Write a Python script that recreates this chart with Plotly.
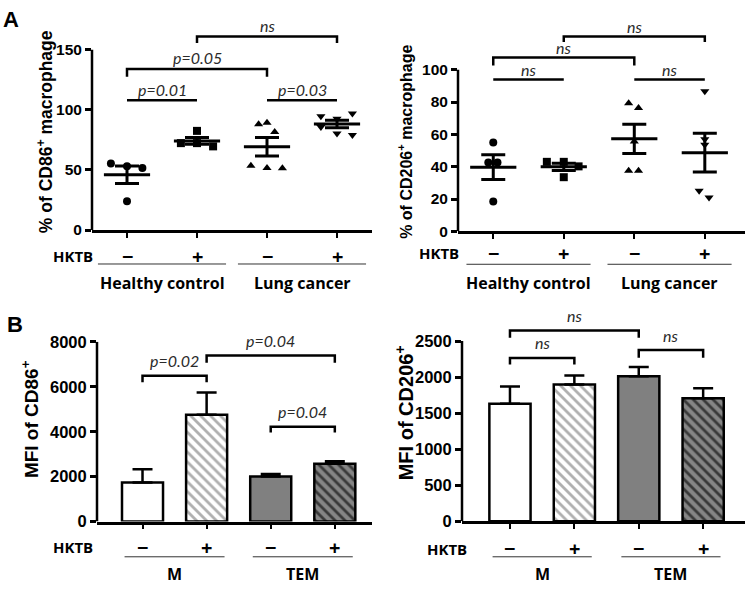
import numpy as np
import plotly.graph_objects as go

W, H = 749, 591

# ---------------- data ----------------
hktb_labels = ["−", "+", "−", "+"]
categories = [0, 1, 2, 3]
groups_A = ["Healthy control", "Lung cancer"]
groups_B = ["M", "TEM"]

# Panel A left: % of CD86+ macrophage (individual donors)
cd86_hc_minus = [55.4, 53.0, 51.6, 24.0]
cd86_hc_plus = [82.5, 72.3, 72.3, 69.6]
cd86_lc_minus = [88.0, 89.3, 81.5, 53.5, 51.6, 51.4]
cd86_lc_plus = [94.6, 85.7, 92.5, 80.4, 97.0, 79.0]
cd86_jitter = [[-0.23, 0.0, 0.22, 0.0], [0.0, -0.23, 0.0, 0.23],
               [-0.12, 0.0, 0.11, -0.23, 0.0, 0.22], [-0.23, -0.23, 0.0, 0.0, 0.22, 0.22]]

# Panel A right: % of CD206+ macrophage
cd206_hc_minus = [55.0, 42.6, 42.6, 18.5]
cd206_hc_plus = [43.0, 43.0, 40.2, 33.5]
cd206_lc_minus = [79.3, 76.3, 55.6, 37.5, 37.5]
cd206_lc_plus = [86.7, 57.0, 53.6, 25.1, 20.9]
cd206_jitter = [[0.0, -0.07, 0.06, 0.0], [-0.24, 0.0, 0.21, 0.0],
                [-0.08, 0.06, 0.0, -0.08, 0.06], [0.0, 0.0, 0.0, -0.08, 0.06]]

# Panel B: MFI (mean, SEM)
mfi_cd86_mean = [1745, 4750, 2005, 2575]
mfi_cd86_sem = [585, 990, 110, 110]
mfi_cd206_mean = [1630, 1898, 2010, 1705]
mfi_cd206_sem = [240, 125, 130, 140]

yticks_A1 = [0, 50, 100, 150]
yticks_A2 = [0, 20, 40, 60, 80, 100]
yticks_B1 = [0, 2000, 4000, 6000, 8000]
yticks_B2 = [0, 500, 1000, 1500, 2000, 2500]

# significance: (x0, x1, y, drop, label)  drop=0 -> flat line
sig_A1 = [(0, 1, 108, 0, "p=0.01"), (2, 3, 108, 0, "p=0.03"),
          (0, 2, 134, 6.5, "p=0.05"), (1, 3, 161, 5.5, "ns")]
sig_A2 = [(0, 1, 94, 0, "ns"), (2, 3, 94, 0, "ns"),
          (0, 2, 107.6, 5, "ns"), (1, 3, 120.6, 3.5, "ns")]
sig_B1 = [(0, 1, 6490, 290, "p=0.02"), (1, 3, 7396, 330, "p=0.04"),
          (2, 3, 4216, 246, "p=0.04")]
sig_B2 = [(0, 1, 2265, 90, "ns"), (0, 2, 2645, 100, "ns"),
          (2, 3, 2374, 105, "ns")]

# bar styles (M-, M+, TEM-, TEM+)
bar_bg = ["white", "white", "#808080", "#858585"]
bar_fg = ["white", "#b0b0b0", "#808080", "#383838"]
bar_hatch = ["", "\\", "", "\\"]


def px_x(p):
    return p / W


def px_y(p):
    return 1 - p / H


fig = go.Figure()
shapes = []
annotations = []

NUMFONT = "Liberation Sans"
TXTFONT = "Open Sans"
PFONT = "Lato"


def add_axes(idx, xdom, ydom, xrange, yrange, yticks, axis_top, tick_size):
    sx = "" if idx == 1 else str(idx)
    fig.update_layout(**{
        "xaxis" + sx: dict(domain=[px_x(xdom[0]), px_x(xdom[1])], range=xrange,
                           anchor="y" + sx, showline=True, linewidth=2.5, linecolor="black",
                           ticks="outside", ticklen=5, tickwidth=2, tickcolor="black",
                           tickvals=categories, showticklabels=False, showgrid=False,
                           zeroline=False, fixedrange=True),
        "yaxis" + sx: dict(domain=[px_y(ydom[0]), px_y(ydom[1])], range=yrange,
                           anchor="x" + sx, showline=False, ticks="outside", ticklen=6,
                           tickwidth=2.5, tickcolor="black", tickvals=yticks,
                           tickfont=dict(family=NUMFONT, size=tick_size, color="black", weight="bold"),
                           showgrid=False, zeroline=False, fixedrange=True),
    })
    # visible y axis line, stopping at the top tick
    shapes.append(dict(type="line", xref="x" + sx + " domain", yref="y" + sx,
                       x0=0, x1=0, y0=0, y1=axis_top, line=dict(color="black", width=2.5)))


def add_sig(idx, sigs, yshift, size):
    sx = "" if idx == 1 else str(idx)
    for x0, x1, y, drop, lab in sigs:
        if drop:
            path = f"M {x0},{y - drop} L {x0},{y} L {x1},{y} L {x1},{y - drop}"
            shapes.append(dict(type="path", path=path, xref="x" + sx, yref="y" + sx,
                               line=dict(color="black", width=2.5)))
        else:
            shapes.append(dict(type="line", x0=x0, x1=x1, y0=y, y1=y, xref="x" + sx,
                               yref="y" + sx, line=dict(color="black", width=2.5)))
        annotations.append(dict(x=(x0 + x1) / 2, y=y, xref="x" + sx, yref="y" + sx,
                                text=lab, showarrow=False, yanchor="middle", yshift=yshift,
                                font=dict(family=PFONT, size=size, color="#2a2a2a", style="italic")))


def add_bottom(idx, hktb_px, hktb_y, pm_y, line_y, half, grp_y, groups, grp_size):
    sx = "" if idx == 1 else str(idx)
    annotations.append(dict(x=px_x(hktb_px), y=px_y(hktb_y), xref="paper", yref="paper",
                            text="<b>HKTB</b>", showarrow=False, xanchor="center", yanchor="middle",
                            font=dict(family=TXTFONT, size=15, color="black")))
    for c, lab in zip(categories, hktb_labels):
        annotations.append(dict(x=c, y=px_y(pm_y), xref="x" + sx, yref="paper",
                                text="<b>" + lab + "</b>",
                                showarrow=False, yanchor="middle",
                                font=dict(family=TXTFONT, size=20, color="black")))
    for g, name in enumerate(groups):
        gc = (categories[2 * g] + categories[2 * g + 1]) / 2
        shapes.append(dict(type="line", xref="x" + sx, yref="paper", x0=gc - half, x1=gc + half,
                           y0=px_y(line_y), y1=px_y(line_y), line=dict(color="#333333", width=1)))
        annotations.append(dict(x=gc, y=px_y(grp_y), xref="x" + sx, yref="paper",
                                text="<b>" + name + "</b>",
                                showarrow=False, yanchor="middle",
                                font=dict(family=TXTFONT, size=grp_size, color="black")))


def add_dots(idx, series, jitters, symbols):
    sx = "" if idx == 1 else str(idx)
    for c, vals, jit, sym in zip(categories, series, jitters, symbols):
        fig.add_trace(go.Scatter(x=[c + j for j in jit], y=vals, mode="markers",
                                 marker=dict(symbol=sym, size=8, color="black"),
                                 xaxis="x" + sx, yaxis="y" + sx, showlegend=False,
                                 cliponaxis=False))
        v = np.array(vals)
        m = float(v.mean())
        sem = float(v.std(ddof=1) / np.sqrt(len(v)))
        fig.add_trace(go.Scatter(x=[c], y=[m], mode="markers",
                                 marker=dict(symbol="line-ew", size=33,
                                             line=dict(width=3, color="black")),
                                 error_y=dict(type="data", array=[sem], thickness=3, width=12,
                                              color="black"),
                                 xaxis="x" + sx, yaxis="y" + sx, showlegend=False,
                                 cliponaxis=False))


def add_bars(idx, means, sems):
    sx = "" if idx == 1 else str(idx)
    for c, m, s, bg, fg, hs in zip(categories, means, sems, bar_bg, bar_fg, bar_hatch):
        mk = dict(color=bg, line=dict(color="black", width=2.5))
        if hs:
            mk["pattern"] = dict(shape=hs, fgcolor=fg, bgcolor=bg, size=7, solidity=0.4,
                                 fillmode="replace")
        fig.add_trace(go.Bar(x=[c], y=[m], width=0.64, marker=mk,
                             error_y=dict(type="data", array=[s], arrayminus=[0],
                                          symmetric=False, thickness=2.5, width=10,
                                          color="black"),
                             xaxis="x" + sx, yaxis="y" + sx, showlegend=False))


# ---- Panel A left ----
add_axes(1, (92, 372), (228, 17.2), [-0.5, 3.5], [0, 170], yticks_A1, 150, 15.5)
add_dots(1, [cd86_hc_minus, cd86_hc_plus, cd86_lc_minus, cd86_lc_plus], cd86_jitter,
         ["circle", "square", "triangle-up", "triangle-down"])
add_sig(1, sig_A1, 11, 16)
add_bottom(1, 73, 255, 255, 263, 0.915, 283, groups_A, 16)

# ---- Panel A right ----
add_axes(2, (458, 745), (229.3, 21), [-0.5, 3.57], [0, 125], yticks_A2, 100, 15.5)
add_dots(2, [cd206_hc_minus, cd206_hc_plus, cd206_lc_minus, cd206_lc_plus], cd206_jitter,
         ["circle", "square", "triangle-up", "triangle-down"])
add_sig(2, sig_A2, 10, 16)
add_bottom(2, 439, 252, 252, 263.3, 0.88, 283, groups_A, 16)

# ---- Panel B left ----
add_axes(3, (97, 372), (528.7, 343.3), [-0.71, 3.58], [0, 8000], yticks_B1, 8000, 16.5)
add_bars(3, mfi_cd86_mean, mfi_cd86_sem)
add_sig(3, sig_B1, 15, 16)
add_bottom(3, 72.5, 555, 555, 565, 0.78, 583, groups_B, 16)

# ---- Panel B right ----
add_axes(4, (462, 745), (528.3, 327.6), [-0.745, 3.65], [0, 2700], yticks_B2, 2500, 16.5)
add_bars(4, mfi_cd206_mean, mfi_cd206_sem)
add_sig(4, sig_B2, 15, 16)
add_bottom(4, 447.5, 556.7, 556.7, 565, 0.77, 583, groups_B, 16)

# ---- y-axis titles & panel letters ----
ytitles = [("% of CD86<sup>+</sup> macrophage", 45, 127, 17.5),
           ("% of CD206<sup>+</sup> macrophage", 405, 137, 16),
           ("MFI of CD86<sup>+</sup>", 30, 423, 19),
           ("MFI of CD206<sup>+</sup>", 404, 417, 20)]
for txt, xp, yp, sz in ytitles:
    annotations.append(dict(x=px_x(xp), y=px_y(yp), xref="paper", yref="paper", text=txt,
                            textangle=-90, showarrow=False, xanchor="center", yanchor="middle",
                            font=dict(family=NUMFONT, size=sz, color="black", weight="bold")))
for letter, xp, yp in [("A", 11, 11), ("B", 15, 325)]:
    annotations.append(dict(x=px_x(xp), y=px_y(yp), xref="paper", yref="paper", text=letter,
                            showarrow=False, xanchor="center", yanchor="middle",
                            font=dict(family=NUMFONT, size=22, color="black", weight="bold")))

fig.update_layout(width=W, height=H, margin=dict(l=0, r=0, t=0, b=0),
                  paper_bgcolor="white", plot_bgcolor="rgba(0,0,0,0)",
                  shapes=shapes, annotations=annotations, barmode="overlay")

fig.write_html("out.html", config={"displayModeBar": False},
               post_script="document.body.style.margin='0';")
